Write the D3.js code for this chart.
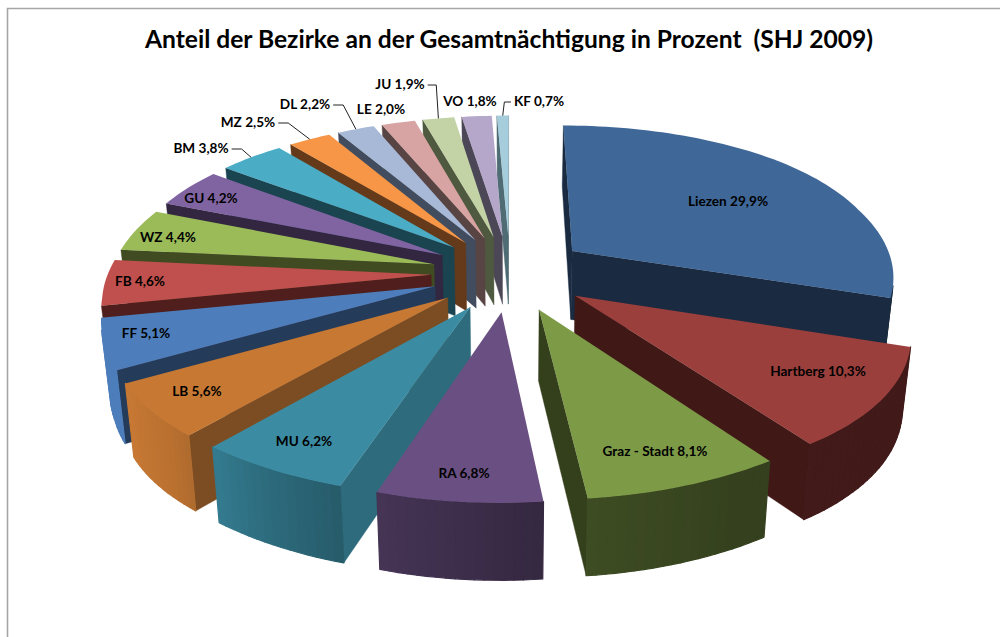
<!DOCTYPE html>
<html><head><meta charset="utf-8">
<script src="https://cdn.jsdelivr.net/npm/d3@7/dist/d3.min.js"></script>
<style>html,body{margin:0;padding:0;background:#fff;overflow:hidden}
svg{display:block}text{font-family:Lato,"Open Sans",sans-serif;font-weight:700;fill:#000;white-space:pre}</style>
</head><body><svg id="c" width="1000" height="637"></svg>
<script>
const chartTitle = "Anteil der Bezirke an der Gesamtnächtigung in Prozent  (SHJ 2009)";
const categories = ["Liezen","Hartberg","Graz - Stadt","RA","MU","LB","FF","FB","WZ","GU","BM","MZ","DL","LE","JU","VO","KF"];
const shares = [29.9,10.3,8.1,6.8,6.2,5.6,5.1,4.6,4.4,4.2,3.8,2.5,2.2,2.0,1.9,1.8,0.7];
const shareLabels = ["29,9%","10,3%","8,1%","6,8%","6,2%","5,6%","5,1%","4,6%","4,4%","4,2%","3,8%","2,5%","2,2%","2,0%","1,9%","1,8%","0,7%"];

// styling
const topColors = ["#3F6797","#9A3F3C","#7D9A47","#6A5082","#3B8CA3","#C77934","#4D7EBB","#C0504D","#9BBB59","#8064A2","#4BACC6","#F79646","#A7B9D6","#D8A4A3","#C3D3A5","#B5A7C9","#A5CDDC"];
const wallColors = ["#1A2A40","#401917","#343F1B","#45335A","#2D6B7D","#7C4D22","#243B5A","#4F1E1D","#414B22","#322640","#1B4451","#653A1A","#414D5E","#594444","#4F5940","#4C4757","#4F6C75"];
// label layout: centre of each label on the page
const labelX = [728,818,655,464,304,197,146,140,168,211,201,248,305,381,400,470,539];
const labelY = [201,371,451,473,441,391,333,281,237,198,148,122,104,109,84,101,101];
// leader lines: category -> side of the label it leaves from (1 = right, -1 = left)
const leaders = {BM:1,MZ:1,DL:1,JU:1,KF:-1};

// 3D projection of the pie
const view = {cx:510,cy:273,r:328,explode:80,ky:0.475,persp:0.00046,sink:0.978,drop:71};
const widen = d3.scaleLinear().domain([-280,-140,50,150,310,400]).range([1,.985,.985,.995,1.03,1.02]).clamp(true);
function project(X,Y,bottom){
  let s = 1 + view.persp*Y;
  const sx = s*widen(Y);
  if(bottom){ s*=view.sink; return [view.cx+X*sx*view.sink, view.cy+s*(view.ky*Y+view.drop)]; }
  return [view.cx+X*sx, view.cy+s*view.ky*Y];
}
const outerShade = d3.scaleLinear()
  .domain([0,150,175,186,198,210,225,240,360])
  .range([.42,.42,.50,.58,.65,.76,.93,1,1]).clamp(true);

const arcs = d3.pie().sort(null).startAngle(0).endAngle(2*Math.PI)(shares);
const slices = arcs.map((a,i)=>{
  const mid=(a.startAngle+a.endAngle)/2;
  const ax=view.explode*Math.sin(mid), ay=-view.explode*Math.cos(mid);
  return {i,a0:a.startAngle,a1:a.endAngle,mid,ax,ay};
}).sort((p,q)=>p.ay-q.ay);

const rim=(d,ang,f=1)=>[d.ax+view.r*f*Math.sin(ang), d.ay-view.r*f*Math.cos(ang)];
const closed=d3.line().curve(d3.curveLinearClosed);
const area=q=>d3.polygonArea(q);
const svg=d3.select("#c");

// frame
const frame=[[7.5,637],[7.5,8.5],[1000,8.5]];
svg.append("path").attr("d",d3.line()(frame)).attr("fill","none").attr("stroke","#A6A6A6").attr("stroke-width",1.6);

const gSlices=svg.append("g");
slices.forEach(d=>{
  const g=gSlices.append("g");
  const steps=Math.max(2,Math.ceil((d.a1-d.a0)/(Math.PI/120)));
  const angs=d3.range(steps+1).map(k=>d.a0+(d.a1-d.a0)*k/steps);
  const P=angs.map(t=>rim(d,t));
  const apex=[d.ax,d.ay];
  const quad=(u,v)=>[project(u[0],u[1]),project(v[0],v[1]),project(v[0],v[1],true),project(u[0],u[1],true)];
  // radial walls
  [[apex,P[0]],[P[P.length-1],apex]].forEach(([u,v])=>{
    const q=quad(u,v);
    if(area(q)>0) g.append("path").attr("d",closed(q)).attr("fill",wallColors[d.i]).attr("stroke",wallColors[d.i]).attr("stroke-width",.4);
  });
  // outer wall, one narrow facet at a time
  for(let k=0;k<steps;k++){
    const q=quad(P[k],P[k+1]);
    if(area(q)>0){
      const deg=(angs[k]+angs[k+1])/2*180/Math.PI;
      const c=d3.interpolateRgb("#000",topColors[d.i])(outerShade(deg));
      g.append("path").attr("d",closed(q)).attr("fill",c).attr("stroke",c).attr("stroke-width",1.2).attr("stroke-linejoin","round");
    }
  }
  // top face
  const face=[apex,...P].map(p=>project(p[0],p[1]));
  g.append("path").attr("d",closed(face)).attr("fill",topColors[d.i]);
});

// labels and leader lines
const labelWidths={};
const gLab=svg.append("g");
categories.forEach((c,i)=>{
  const t=gLab.append("text").attr("x",labelX[i]).attr("y",labelY[i]).attr("text-anchor","middle")
    .attr("dominant-baseline","central").attr("font-size",13.6).text(c+" "+shareLabels[i]);
  labelWidths[c]=t.node().getComputedTextLength();
});
const byIndex=d3.index(slices,d=>d.i);
Object.entries(leaders).forEach(([c,side])=>{
  const i=categories.indexOf(c), d=byIndex.get(i);
  const o=rim(d,d.mid), end=project(o[0],o[1]);
  const x0=labelX[i]+side*(labelWidths[c]/2+3), y0=labelY[i]+1;
  const elbow=[x0+side*Math.min(10,Math.abs(end[0]-x0)*.8),y0];
  svg.append("path").attr("d",d3.line()([[x0,y0],elbow,end])).attr("fill","none").attr("stroke","#222").attr("stroke-width",1);
});

svg.append("text").attr("x",509).attr("y",38).attr("dominant-baseline","central").attr("text-anchor","middle")
  .attr("font-size",24.6).text(chartTitle);
</script></body></html>
